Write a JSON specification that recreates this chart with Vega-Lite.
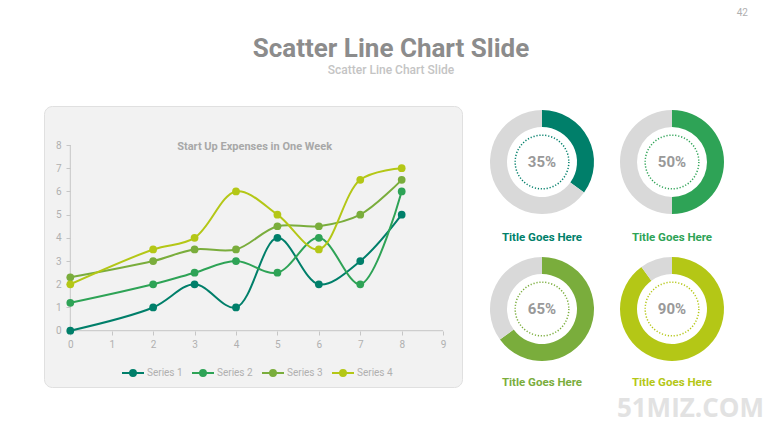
{
  "$schema": "https://vega.github.io/schema/vega-lite/v6.json",
  "background": "white",
  "padding": {"left": 43, "top": 7, "right": 5, "bottom": 5},
  "config": {"font": "Roboto", "view": {"stroke": null}, "axis": {"labelOverlap": false, "labelFlush": false, "labelBound": false}},
  "title": {"text": "42", "anchor": "end", "frame": "bounds", "fontSize": 10, "fontWeight": "normal", "color": "#b0b0b0", "offset": 18, "dx": -16},
  "bounds": "flush",
  "spacing": 24,
  "hconcat": [
    {
      "width": 418,
      "height": 281,
      "view": {"fill": "#f2f2f2", "stroke": "#e0e0e0", "strokeWidth": 1, "cornerRadius": 8},
      "title": {"text": "Scatter Line Chart Slide", "subtitle": "Scatter Line Chart Slide", "anchor": "middle", "frame": "group", "dx": 138, "offset": 30, "fontSize": 26, "fontWeight": "bold", "color": "#8c8c8c", "font": "Roboto", "subtitleFont": "Roboto", "subtitleFontSize": 12, "subtitleFontWeight": 500, "subtitleColor": "#c4c4c4", "subtitlePadding": 3},
      "encoding": {
        "x": {"type": "quantitative", "scale": {"domain": [-0.635, 9.456], "nice": false, "zero": false}, "axis": {"values": [0, 1, 2, 3, 4, 5, 6, 7, 8, 9], "tickCount": 10, "labelOverlap": false, "domain": false, "grid": false, "title": null, "offset": -56, "tickSize": 4, "tickColor": "#c6c6c6", "labelColor": "#b0b0b0", "labelFontSize": 10, "labelPadding": 4}},
        "y": {"type": "quantitative", "scale": {"domain": [-2.426, 9.681], "nice": false, "zero": false}, "axis": {"values": [0, 1, 2, 3, 4, 5, 6, 7, 8], "tickCount": 9, "labelOverlap": false, "domain": false, "grid": false, "title": null, "offset": -26, "tickSize": 4, "tickColor": "#c6c6c6", "labelColor": "#b0b0b0", "labelFontSize": 10, "labelPadding": 5}}
      },
      "layer": [
        {
          "data": {"values": [{}]},
          "mark": {"type": "rule", "color": "#c6c6c6", "strokeWidth": 1},
          "encoding": {
            "x": {"datum": 0, "type": "quantitative"},
            "x2": {"datum": 9},
            "y": {"datum": 0, "type": "quantitative"}
          }
        },
        {
          "data": {"values": [{}]},
          "mark": {"type": "rule", "color": "#c6c6c6", "strokeWidth": 1},
          "encoding": {
            "x": {"datum": 0, "type": "quantitative"},
            "y": {"datum": 0, "type": "quantitative"},
            "y2": {"datum": 8}
          }
        },
        {
          "data": {"values": [{}]},
          "mark": {"type": "text", "text": "Start Up Expenses in One Week", "fontSize": 11, "fontWeight": "bold", "color": "#a8a8a8"},
          "encoding": {
            "x": {"datum": 4.45, "type": "quantitative"},
            "y": {"datum": 7.93, "type": "quantitative"}
          }
        },
        {
          "data": {"values": [
            {"series": "Series 1", "x": 0, "y": 0},
            {"series": "Series 1", "x": 2, "y": 1},
            {"series": "Series 1", "x": 3, "y": 2},
            {"series": "Series 1", "x": 4, "y": 1},
            {"series": "Series 1", "x": 5, "y": 4},
            {"series": "Series 1", "x": 6, "y": 2},
            {"series": "Series 1", "x": 7, "y": 3},
            {"series": "Series 1", "x": 8, "y": 5},
            {"series": "Series 2", "x": 0, "y": 1.2},
            {"series": "Series 2", "x": 2, "y": 2},
            {"series": "Series 2", "x": 3, "y": 2.5},
            {"series": "Series 2", "x": 4, "y": 3},
            {"series": "Series 2", "x": 5, "y": 2.5},
            {"series": "Series 2", "x": 6, "y": 4},
            {"series": "Series 2", "x": 7, "y": 2},
            {"series": "Series 2", "x": 8, "y": 6},
            {"series": "Series 3", "x": 0, "y": 2.3},
            {"series": "Series 3", "x": 2, "y": 3},
            {"series": "Series 3", "x": 3, "y": 3.5},
            {"series": "Series 3", "x": 4, "y": 3.5},
            {"series": "Series 3", "x": 5, "y": 4.5},
            {"series": "Series 3", "x": 6, "y": 4.5},
            {"series": "Series 3", "x": 7, "y": 5},
            {"series": "Series 3", "x": 8, "y": 6.5},
            {"series": "Series 4", "x": 0, "y": 2},
            {"series": "Series 4", "x": 2, "y": 3.5},
            {"series": "Series 4", "x": 3, "y": 4},
            {"series": "Series 4", "x": 4, "y": 6},
            {"series": "Series 4", "x": 5, "y": 5},
            {"series": "Series 4", "x": 6, "y": 3.5},
            {"series": "Series 4", "x": 7, "y": 6.5},
            {"series": "Series 4", "x": 8, "y": 7}
          ]},
          "mark": {"type": "line", "interpolate": "catmull-rom", "strokeWidth": 2, "point": {"filled": true, "size": 60}},
          "encoding": {
            "x": {"field": "x", "type": "quantitative"},
            "y": {"field": "y", "type": "quantitative"},
            "color": {
              "field": "series", "type": "nominal",
              "scale": {"domain": ["Series 1", "Series 2", "Series 3", "Series 4"], "range": ["#007f6a", "#2ea356", "#7aad3c", "#b4c716"]},
              "legend": {
                "title": null, "orient": "none", "direction": "horizontal", "legendX": 77, "legendY": 255,
                "symbolType": "M-1,0L1,0M-0.27,0A0.27,0.27,0,1,0,0.27,0A0.27,0.27,0,1,0,-0.27,0Z",
                "symbolSize": 484, "symbolStrokeWidth": 2, "labelColor": "#b0b0b0", "labelFontSize": 10, "labelOffset": 2, "columnPadding": 5,
                "encode": {"symbols": {"update": {"fill": {"scale": "color", "field": "value"}, "stroke": {"scale": "color", "field": "value"}}}}
              }
            }
          }
        }
      ]
    },
    {
      "columns": 2,
      "bounds": "flush",
      "spacing": {"row": 35, "column": 18},
      "title": {"text": "51MIZ.COM", "orient": "bottom", "anchor": "end", "frame": "bounds", "font": "Open Sans", "fontSize": 26, "fontWeight": "bold", "color": "#e2e2e2", "dx": 36, "offset": 7},
      "resolve": {"scale": {"color": "independent", "theta": "independent"}},
      "concat": [
        {
          "width": 112, "height": 112,
          "title": {"text": "Title Goes Here", "orient": "bottom", "color": "#007f6a", "fontSize": 11.5, "fontWeight": "bold", "offset": 14},
          "data": {"values": [{"part": "a1", "v": 35, "o": 1}, {"part": "b1", "v": 65, "o": 2}]},
          "layer": [
            {"mark": {"type": "arc", "outerRadius": 52, "innerRadius": 35}, "encoding": {"theta": {"field": "v", "type": "quantitative", "stack": true}, "order": {"field": "o", "type": "quantitative"}, "color": {"field": "part", "type": "nominal", "scale": {"domain": ["a1", "b1"], "range": ["#007f6a", "#d9d9d9"]}, "legend": null}}},
            {"data": {"values": [{}]}, "mark": {"type": "point", "shape": "circle", "size": 2884, "filled": false, "stroke": "#007f6a", "strokeWidth": 1.5, "strokeDash": [1.2, 1.8], "opacity": 1}, "encoding": {}},
            {"data": {"values": [{}]}, "mark": {"type": "text", "text": "35%", "fontSize": 15, "fontWeight": "bold", "color": "#999999"}, "encoding": {}}
          ]
        },
        {
          "width": 112, "height": 112,
          "title": {"text": "Title Goes Here", "orient": "bottom", "color": "#2ea356", "fontSize": 11.5, "fontWeight": "bold", "offset": 14},
          "data": {"values": [{"part": "a2", "v": 50, "o": 1}, {"part": "b2", "v": 50, "o": 2}]},
          "layer": [
            {"mark": {"type": "arc", "outerRadius": 52, "innerRadius": 35}, "encoding": {"theta": {"field": "v", "type": "quantitative", "stack": true}, "order": {"field": "o", "type": "quantitative"}, "color": {"field": "part", "type": "nominal", "scale": {"domain": ["a2", "b2"], "range": ["#2ea356", "#d9d9d9"]}, "legend": null}}},
            {"data": {"values": [{}]}, "mark": {"type": "point", "shape": "circle", "size": 2884, "filled": false, "stroke": "#2ea356", "strokeWidth": 1.5, "strokeDash": [1.2, 1.8], "opacity": 1}, "encoding": {}},
            {"data": {"values": [{}]}, "mark": {"type": "text", "text": "50%", "fontSize": 15, "fontWeight": "bold", "color": "#999999"}, "encoding": {}}
          ]
        },
        {
          "width": 112, "height": 112,
          "title": {"text": "Title Goes Here", "orient": "bottom", "color": "#7aad3c", "fontSize": 11.5, "fontWeight": "bold", "offset": 12},
          "data": {"values": [{"part": "a3", "v": 65, "o": 1}, {"part": "b3", "v": 35, "o": 2}]},
          "layer": [
            {"mark": {"type": "arc", "outerRadius": 52, "innerRadius": 35}, "encoding": {"theta": {"field": "v", "type": "quantitative", "stack": true}, "order": {"field": "o", "type": "quantitative"}, "color": {"field": "part", "type": "nominal", "scale": {"domain": ["a3", "b3"], "range": ["#7aad3c", "#d9d9d9"]}, "legend": null}}},
            {"data": {"values": [{}]}, "mark": {"type": "point", "shape": "circle", "size": 2884, "filled": false, "stroke": "#7aad3c", "strokeWidth": 1.5, "strokeDash": [1.2, 1.8], "opacity": 1}, "encoding": {}},
            {"data": {"values": [{}]}, "mark": {"type": "text", "text": "65%", "fontSize": 15, "fontWeight": "bold", "color": "#999999"}, "encoding": {}}
          ]
        },
        {
          "width": 112, "height": 112,
          "title": {"text": "Title Goes Here", "orient": "bottom", "color": "#b4c716", "fontSize": 11.5, "fontWeight": "bold", "offset": 12},
          "data": {"values": [{"part": "a4", "v": 90, "o": 1}, {"part": "b4", "v": 10, "o": 2}]},
          "layer": [
            {"mark": {"type": "arc", "outerRadius": 52, "innerRadius": 35}, "encoding": {"theta": {"field": "v", "type": "quantitative", "stack": true}, "order": {"field": "o", "type": "quantitative"}, "color": {"field": "part", "type": "nominal", "scale": {"domain": ["a4", "b4"], "range": ["#b4c716", "#d9d9d9"]}, "legend": null}}},
            {"data": {"values": [{}]}, "mark": {"type": "point", "shape": "circle", "size": 2884, "filled": false, "stroke": "#b4c716", "strokeWidth": 1.5, "strokeDash": [1.2, 1.8], "opacity": 1}, "encoding": {}},
            {"data": {"values": [{}]}, "mark": {"type": "text", "text": "90%", "fontSize": 15, "fontWeight": "bold", "color": "#999999"}, "encoding": {}}
          ]
        }
      ]
    }
  ]
}
